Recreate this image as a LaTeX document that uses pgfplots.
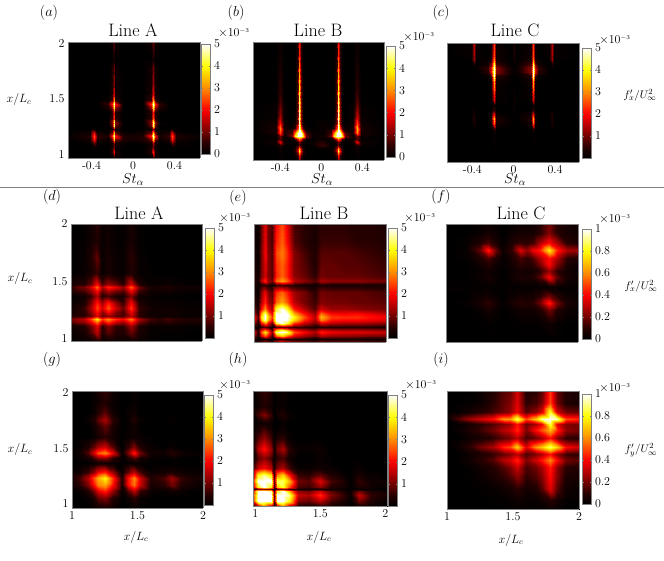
\documentclass[border=0pt]{standalone}
\usepackage{pgfplots}
\pgfplotsset{compat=1.18}
\pgfplotsset{
  /pgfplots/colormap={flowhot}{rgb255(0)=(0,0,0) rgb255(5)=(40,0,0) rgb255(10)=(115,0,0) rgb255(20)=(255,0,0) rgb255(30)=(255,140,0) rgb255(40)=(255,255,0) rgb255(50)=(255,255,255)},
  panel/.style={scale only axis, anchor=south west, view={0}{90}, axis on top, colormap name=flowhot,
    axis line style={gray}, major tick length=0pt,
    ticklabel style={font=\fontsize{12}{14}\selectfont},
    xtick=\empty, ytick=\empty, ztick=\empty},
  cb/.style n args={3}{colorbar, colorbar style={at={(parent axis.south east)}, anchor=south west,
    xshift=#1, yshift=#2, width=9pt, height=#3, axis line style={gray}, major tick length=1.5pt,
    ticklabel style={font=\fontsize{12}{14}\selectfont}}},
  five/.style={point meta min=0, point meta max=5, colorbar style={ytick={0,1,2,3,4,5}}},
  fivenz/.style={point meta min=0, point meta max=5, colorbar style={ytick={1,2,3,4,5}}},
  one/.style={point meta min=0, point meta max=1, colorbar style={ytick={0,0.2,0.4,0.6,0.8,1}, yticklabels={0,0.2,0.4,0.6,0.8,1}}},
  stx/.style={xtick={-0.4,0,0.4}, xticklabels={-0.4,0,0.4}},
  xlc/.style={xtick={1,1.5,2}, xticklabels={1,1.5,2}},
  ylc/.style={ytick={1,1.5,2}, yticklabels={1,1.5,2}},
}
% each panel: x positions of the grid, then one row of values per y
\newcommand\setgrid[1]{\gdef\gridx{#1}\gdef\griddata{}\foreach \q [count=\n] in {#1}{\xdef\gridn{\n}}}
\newcommand\gr[2]{\foreach \v [count=\i from 0] in {#2}{\pgfmathparse{{\gridx}[\i]}\xdef\griddata{\griddata (\pgfmathresult,#1,\v)}}}
\newcommand\drawgrid{\edef\next{\noexpand\addplot3[surf,shader=interp,mesh/cols=\gridn,point meta=z] coordinates {\griddata};}\next}
\newcommand\txt[3]{\node[inner sep=0pt] at (#1pt,560pt-#2pt) {#3};}
\newcommand\ttl[3]{\txt{#1}{#2}{\fontsize{18}{20}\selectfont #3}}
\newcommand\lett[3]{\txt{#1}{#2}{\fontsize{15}{17}\selectfont($#3$)}}
\newcommand\xlc[2]{\txt{#1}{#2}{\fontsize{11.5}{13}\selectfont$x/L_c$}}
\newcommand\st[2]{\txt{#1}{#2}{\fontsize{14}{16}\selectfont$St_\alpha$}}
\newcommand\tenm[2]{\txt{#1}{#2}{\fontsize{12}{13}\selectfont$\times 10^{\scriptscriptstyle -3}$}}
\newcommand\fl[3]{\txt{#1}{#2}{\fontsize{11}{13}\selectfont$f'_#3/U_\infty^2$}}
\begin{document}
\begin{tikzpicture}
\path[use as bounding box] (0,0) rectangle (664pt,560pt);
% (a)
\begin{axis}[panel, at={(68pt,402pt)}, width=132pt, height=116pt,
  xmin=-0.627, xmax=0.646, ymin=0.964, ymax=2.018, stx, ylc, cb={-7pt}{4pt}{110pt}, five]
\setgrid{-0.627,-0.415,-0.38,-0.345,-0.24,-0.205,-0.187,-0.17,-0.1,0,0.1,0.175,0.193,0.21,0.25,0.345,0.38,0.415,0.646}
\gr{0.964}{0,0,0,0,0,0,0.3,0,0,0,0,0,0.3,0,0,0,0,0,0}
\gr{1.02}{0,0,0,0,0,0.4,2.2,0.4,0,0,0,0.4,2.4,0.4,0,0,0,0,0}
\gr{1.06}{0,0,0.1,0,0,0.2,1,0.2,0,0,0,0.2,1,0.2,0,0,0.1,0,0}
\gr{1.1}{0,0.1,0.9,0.1,0,0.3,1.2,0.3,0.1,0,0.1,0.3,1.2,0.3,0,0.1,0.9,0.1,0}
\gr{1.13}{0,0.2,2,0.3,0.1,0.9,3.4,0.9,0.3,0.2,0.3,0.9,3.4,0.9,0.1,0.3,2,0.2,0}
\gr{1.165}{0.1,0.4,2.6,0.6,0.3,2.2,5,2.2,0.4,0.3,0.4,2.2,5,2.2,0.3,0.6,2.6,0.4,0.1}
\gr{1.195}{0,0.2,1.9,0.3,0.1,1,3.8,1,0.2,0.1,0.2,1,3.8,1,0.1,0.3,1.9,0.2,0}
\gr{1.225}{0,0,0.2,0,0,0.2,1.2,0.2,0,0,0,0.2,1.2,0.2,0,0,0.2,0,0}
\gr{1.255}{0,0,0,0,0,0.9,4.4,0.9,0,0,0,0.9,4.4,0.9,0,0,0,0,0}
\gr{1.29}{0,0,0,0,0.1,1.2,4.6,1.2,0,0,0,1.2,4.6,1.2,0.1,0,0,0,0}
\gr{1.33}{0,0,0,0,0,0.5,2.4,0.5,0,0,0,0.5,2.4,0.5,0,0,0,0,0}
\gr{1.38}{0,0,0,0,0,0.4,2.2,0.4,0,0,0,0.4,2.2,0.4,0,0,0,0,0}
\gr{1.42}{0,0,0,0,0.3,1.2,4,1.2,0,0,0,1.2,4,1.2,0.3,0,0,0,0}
\gr{1.455}{0,0,0,0,0.6,2.2,5,2.2,0,0,0,2.2,5,2.2,0.6,0,0,0,0}
\gr{1.49}{0,0,0,0,0.1,0.6,3.2,0.6,0,0,0,0.6,3.2,0.6,0.1,0,0,0,0}
\gr{1.55}{0,0,0,0,0,0.3,1.8,0.3,0,0,0,0.3,1.8,0.3,0,0,0,0,0}
\gr{1.65}{0,0,0,0,0,0.2,1.2,0.2,0,0,0,0.2,1.2,0.2,0,0,0,0,0}
\gr{1.78}{0,0,0,0,0,0.2,1,0.2,0,0,0,0.2,1,0.2,0,0,0,0,0}
\gr{1.85}{0,0,0,0,0,0,0.3,0,0,0,0,0,0.3,0,0,0,0,0,0}
\gr{1.95}{0,0,0,0,0,0.1,0.7,0.1,0,0,0,0.1,0.7,0.1,0,0,0,0,0}
\gr{2.018}{0,0,0,0,0,0.2,1,0.2,0,0,0,0.2,1,0.2,0,0,0,0,0}
\drawgrid
\end{axis}
% (b)
\begin{axis}[panel, at={(253pt,400pt)}, width=131pt, height=118pt,
  xmin=-0.666, xmax=0.612, ymin=1, ymax=2, stx, cb={-6pt}{3pt}{111pt}, five]
\setgrid{-0.666,-0.44,-0.4,-0.36,-0.285,-0.255,-0.23,-0.215,-0.2,-0.175,-0.145,-0.08,-0.025,0.03,0.096,0.126,0.151,0.166,0.181,0.206,0.236,0.31,0.351,0.39,0.612}
\gr{1}{0,0,0,0,0,0,0.3,1.2,0.3,0,0,0,0,0,0,0,0.3,1.2,0.3,0,0,0,0,0,0}
\gr{1.03}{0,0,0.1,0,0,0.1,0.6,2,0.6,0.1,0,0,0,0,0,0.1,0.6,2,0.6,0.1,0,0,0.1,0,0}
\gr{1.06}{0,0,0.1,0,0,0.3,1.2,3,1.2,0.3,0,0,0,0,0,0.3,1.2,3,1.2,0.3,0,0,0.1,0,0}
\gr{1.08}{0,0,0.2,0,0,0.5,2,4.4,2,0.5,0,0,0,0,0,0.5,2,4.4,2,0.5,0,0,0.2,0,0}
\gr{1.1}{0,0,0.2,0,0,0.3,1.2,3,1.2,0.3,0,0,0.1,0.1,0,0.3,1.2,3,1.2,0.3,0,0,0.2,0,0}
\gr{1.13}{0,0.1,0.5,0.1,0,0.1,0.3,0.8,0.3,0.1,0,0.1,0.6,0.6,0,0.1,0.3,0.8,0.3,0.1,0,0.1,0.5,0.1,0}
\gr{1.155}{0,0.2,2,0.2,0,0.1,0.5,1,0.5,0.1,0,0.1,0.4,0.4,0,0.1,0.5,1,0.5,0.1,0,0.2,2,0.2,0}
\gr{1.175}{0,0.1,0.8,0.1,0.1,0.7,2,3,2,0.7,0.1,0,0.1,0.1,0.1,0.7,2,3,2,0.7,0.1,0.1,0.8,0.1,0}
\gr{1.205}{0,0.1,1,0.1,1,4,5,5,5,4,1,0.1,0.2,0.2,1,4,5,5,5,4,1,0.1,1,0.1,0}
\gr{1.23}{0,0.3,2.5,0.3,0.7,3,5,5,5,3,0.7,0.1,0.1,0.1,0.7,3,5,5,5,3,0.7,0.3,3,0.3,0}
\gr{1.27}{0,0.3,3,0.3,0.1,0.6,2.5,5,2.5,0.6,0.1,0,0.1,0.1,0.1,0.6,2.5,5,2.5,0.6,0.1,0.3,3.4,0.3,0}
\gr{1.31}{0,0.2,2,0.2,0,0.2,1.2,4.8,1.2,0.2,0,0,0.1,0.1,0,0.2,1.2,4.8,1.2,0.2,0,0.2,2.4,0.2,0}
\gr{1.37}{0,0.1,1.3,0.1,0,0.1,1.2,4.8,1.2,0.1,0,0,0,0,0,0.1,1.2,4.8,1.2,0.1,0,0.1,1.6,0.1,0}
\gr{1.44}{0,0.1,1,0.1,0,0,1.1,4.6,1.1,0,0,0,0,0,0,0,1.1,4.6,1.1,0,0,0.1,1.1,0.1,0}
\gr{1.51}{0,0,0.7,0,0,0,1,4.4,1,0,0,0,0,0,0,0,1,4.4,1,0,0,0,0.8,0,0}
\gr{1.6}{0,0,0.5,0,0,0,0.9,4,0.9,0,0,0,0,0,0,0,0.9,4,0.9,0,0,0,0.5,0,0}
\gr{1.7}{0,0,0.4,0,0,0,0.8,3.5,0.8,0,0,0,0,0,0,0,0.8,3.5,0.8,0,0,0,0.4,0,0}
\gr{1.8}{0,0,0.3,0,0,0,0.6,3,0.6,0,0,0,0,0,0,0,0.6,3,0.6,0,0,0,0.3,0,0}
\gr{1.9}{0,0,0.2,0,0,0,0.5,2.3,0.5,0,0,0,0,0,0,0,0.5,2.3,0.5,0,0,0,0.2,0,0}
\gr{2}{0,0,0.2,0,0,0,0.5,2.2,0.5,0,0,0,0,0,0,0,0.5,2.2,0.5,0,0,0,0.2,0,0}
\drawgrid
\end{axis}
% (c)
\begin{axis}[panel, at={(447pt,398pt)}, width=132pt, height=119pt,
  xmin=-0.645, xmax=0.632, ymin=1, ymax=2, stx, cb={-5pt}{4pt}{110pt}, fivenz]
\setgrid{-0.645,-0.41,-0.385,-0.36,-0.25,-0.215,-0.194,-0.173,-0.02,0,0.02,0.163,0.184,0.205,0.24,0.345,0.368,0.39,0.632}
\gr{1}{0,0,0,0,0,0,0,0,0,0,0,0,0,0,0,0,0,0,0}
\gr{1.24}{0,0,0,0,0,0,0.1,0,0,0,0,0,0.1,0,0,0,0,0,0}
\gr{1.28}{0,0,0,0,0,0,0.5,0,0,0,0,0,0.5,0,0,0,0,0,0}
\gr{1.32}{0,0,0.3,0,0,0.2,2.5,0.2,0,0,0,0.2,2.5,0.2,0,0,0.3,0,0}
\gr{1.36}{0,0,0.4,0,0,0.4,3.5,0.4,0,0,0,0.4,3.5,0.4,0,0,0.4,0,0}
\gr{1.4}{0,0,0.3,0,0,0.2,2,0.2,0,0.1,0,0.2,2,0.2,0,0,0.3,0,0}
\gr{1.44}{0,0,0.1,0,0,0,0.5,0,0,0.1,0,0,0.5,0,0,0,0.1,0,0}
\gr{1.48}{0,0,0,0,0,0,0.2,0,0,0.1,0,0,0.2,0,0,0,0,0,0}
\gr{1.52}{0,0,0,0,0,0.1,1.8,0.1,0,0.2,0,0.1,1.8,0.1,0,0,0,0,0}
\gr{1.57}{0,0,0,0,0,0.1,2.2,0.1,0,0.1,0,0.1,2.2,0.1,0,0,0,0,0}
\gr{1.63}{0,0,0,0,0,0.1,3,0.1,0,0.1,0,0.1,3,0.1,0,0,0,0,0}
\gr{1.68}{0,0,0,0,0,0.2,3.4,0.2,0,0,0,0.2,3.4,0.2,0,0,0,0,0}
\gr{1.72}{0,0,0.1,0,0.1,0.7,5,0.5,0,0,0,0.5,5,0.7,0.1,0,0.1,0,0}
\gr{1.76}{0,0,0,0,0.5,1.8,5,1.2,0.1,0.1,0.1,1.2,5,1.8,0.5,0,0,0,0}
\gr{1.79}{0,0,0,0,0.6,1.8,5,1.2,0.1,0.1,0.1,1.2,5,1.8,0.6,0,0,0,0}
\gr{1.82}{0,0,0.3,0,0.2,1,4.2,0.7,0,0.1,0,0.7,4.2,1,0.2,0,0.3,0,0}
\gr{1.86}{0,0,1.2,0,0.1,0.4,3,0.3,0,0.2,0,0.3,3,0.4,0.1,0,1.2,0,0}
\gr{1.9}{0,0.1,1.4,0.1,0,0.2,2.6,0.2,0,0.4,0,0.2,2.6,0.2,0,0.1,1.4,0.1,0}
\gr{1.95}{0,0.1,1.5,0.1,0,0.2,2.5,0.2,0,0.4,0,0.2,2.5,0.2,0,0.1,1.5,0.1,0}
\gr{2}{0,0.1,1.5,0.1,0,0.1,2.4,0.1,0,0.3,0,0.1,2.4,0.1,0,0.1,1.5,0.1,0}
\drawgrid
\end{axis}
% (d)
\begin{axis}[panel, at={(71pt,219pt)}, width=131pt, height=117pt,
  xmin=1, xmax=2, ymin=0.98, ymax=2, ylc, cb={-5pt}{3pt}{110pt}, fivenz]
\setgrid{1,1.05,1.1,1.15,1.195,1.233,1.285,1.34,1.4,1.46,1.52,1.6,1.67,1.74,1.82,1.9,2}
\gr{0.98}{0.05,0.1,0.1,0.2,0.4,0.1,0.2,0.1,0.1,0.2,0.1,0.05,0,0,0,0,0}
\gr{1.05}{0.1,0.2,0.3,0.7,1.5,0.4,0.8,0.4,0.4,0.9,0.3,0.1,0.05,0.05,0.05,0,0}
\gr{1.11}{0.2,0.3,0.4,1,1.8,0.5,1.1,0.5,0.5,1.3,0.4,0.1,0.1,0.1,0.1,0.05,0.05}
\gr{1.145}{0.8,1.1,1.2,1.9,2.9,1.6,2.4,1.6,1.3,2.2,1,0.5,0.4,0.5,0.4,0.3,0.3}
\gr{1.175}{1,1.3,1.5,2.5,3.9,2.4,3,2.3,2,2.9,1.4,0.7,0.5,0.7,0.5,0.4,0.4}
\gr{1.2}{0.4,0.5,0.5,0.9,1.8,0.9,1.2,0.8,0.7,1.5,0.5,0.2,0.15,0.2,0.15,0.1,0.1}
\gr{1.235}{0.2,0.4,0.5,1.2,2.1,1.2,2,1.1,0.7,1.9,0.5,0.2,0.15,0.2,0.15,0.1,0.1}
\gr{1.27}{0.2,0.4,0.6,1.4,2.5,1.7,2.6,1.6,0.9,2.4,0.6,0.25,0.2,0.2,0.15,0.1,0.1}
\gr{1.31}{0.1,0.2,0.3,1.1,2.2,1.3,2.2,1.2,0.6,2,0.4,0.15,0.1,0.1,0.1,0.05,0.05}
\gr{1.37}{0.05,0.1,0.2,0.6,1.4,0.4,0.7,0.3,0.3,1.1,0.2,0.1,0.05,0.05,0.05,0,0}
\gr{1.42}{0.4,0.6,0.7,1.2,2,0.9,1.4,1,0.8,1.9,0.6,0.2,0.2,0.2,0.1,0.1,0.1}
\gr{1.45}{0.5,0.9,1,1.7,2.8,1.4,2.3,1.8,1.2,2.7,1,0.3,0.3,0.4,0.2,0.2,0.2}
\gr{1.48}{0.2,0.4,0.4,0.9,1.9,0.7,1.2,0.9,0.5,1.7,0.4,0.1,0.1,0.15,0.1,0.05,0.05}
\gr{1.57}{0,0.05,0.1,0.3,0.6,0.1,0.3,0.1,0.1,0.4,0.1,0.05,0,0,0,0,0}
\gr{1.7}{0,0.05,0.1,0.4,0.9,0.1,0.3,0.1,0.1,0.5,0.1,0,0,0,0,0,0}
\gr{1.85}{0,0.05,0.05,0.2,0.4,0.1,0.2,0.05,0.05,0.3,0.05,0,0,0,0,0,0}
\gr{2}{0,0,0.05,0.2,0.5,0.1,0.2,0.05,0.05,0.3,0.05,0,0,0,0,0,0}
\drawgrid
\end{axis}
% (e)
\begin{axis}[panel, at={(254pt,218pt)}, width=132pt, height=118pt,
  xmin=1, xmax=2, ymin=1, ymax=2, cb={-6pt}{4pt}{110pt}, fivenz]
\setgrid{1,1.03,1.055,1.08,1.105,1.135,1.17,1.21,1.25,1.3,1.38,1.465,1.51,1.58,1.68,1.78,1.88,2}
\gr{1}{1.2,0.4,1,1.4,1.2,0.6,1.6,2.4,1.8,1.4,1.2,0.8,1.2,1,1,1,0.9,0.8}
\gr{1.028}{0.3,0,0.1,0.3,0.2,0.1,0.3,0.4,0.3,0.3,0.3,0.1,0.3,0.3,0.3,0.3,0.2,0.2}
\gr{1.055}{1.2,0.2,1.6,2.6,1.8,0.6,2.6,3.4,2.6,1.7,1.3,0.9,1.4,1.2,1.2,1.1,1,1}
\gr{1.085}{1.8,0.4,2.6,3.8,2.8,1.1,4.6,5,4.6,2.6,2,1.4,2.2,1.9,1.8,1.8,1.7,1.6}
\gr{1.105}{1.4,0.3,1.9,2.8,2.1,0.8,3.4,4.2,3.4,2,1.5,1.1,1.7,1.5,1.4,1.4,1.3,1.2}
\gr{1.128}{0.4,0.1,0.5,0.8,0.6,0.2,0.7,0.9,0.8,0.6,0.5,0.3,0.5,0.4,0.4,0.4,0.4,0.3}
\gr{1.16}{1.2,0.3,2,3,2,0.9,4.2,5,4.2,2.4,1.6,1,1.8,1.5,1.4,1.4,1.3,1.2}
\gr{1.19}{1.8,0.5,3.2,4.8,3.2,1.9,5,5,5,3.6,2.3,1.4,2.9,2.1,2,2,1.9,1.7}
\gr{1.213}{2.2,0.7,3.8,5,3.6,2.4,5,5,5,4,2.6,1.5,3.4,2.4,2.3,2.3,2.1,1.9}
\gr{1.24}{1.6,0.5,3.2,4.8,3.2,2,5,5,5,3.4,2.2,1.3,2.9,2.1,2,2.1,1.9,1.6}
\gr{1.28}{1,0.3,2,3,2,1.4,4.2,5,4.2,2.2,1.5,0.8,1.7,1.3,1.3,1.2,1.1,1}
\gr{1.34}{0.6,0.2,1.4,2.3,1.4,1,2.7,3.2,2.6,1.5,1,0.6,1.1,1,1,0.9,0.9,0.8}
\gr{1.42}{0.4,0.1,1.1,1.9,1.1,0.8,2.3,2.7,2.2,1.3,1,0.5,1,0.9,0.9,0.9,0.8,0.7}
\gr{1.483}{0.3,0.1,0.4,0.6,0.4,0.2,0.6,0.7,0.6,0.4,0.3,0.2,0.4,0.3,0.3,0.3,0.3,0.3}
\gr{1.517}{0.6,0.2,1.4,2.3,1.4,1,2.7,3.2,2.7,1.5,1.2,0.8,1.4,1.2,1.2,1.2,1.1,1}
\gr{1.56}{0.5,0.2,1,1.7,1.1,0.8,2.2,2.7,2.2,1.2,0.9,0.5,1,0.9,0.9,0.9,0.8,0.7}
\gr{1.65}{0.4,0.1,1,1.8,1.1,0.8,2.3,2.7,2.2,1.1,0.8,0.4,0.9,0.9,0.8,0.8,0.7,0.6}
\gr{1.75}{0.4,0.1,1,2,1.1,0.8,2.5,2.9,2.3,1.1,0.7,0.4,0.8,0.8,0.8,0.7,0.6,0.5}
\gr{1.85}{0.3,0.1,0.9,1.9,1,0.7,2.2,2.7,2,0.8,0.5,0.3,0.6,0.6,0.6,0.5,0.5,0.4}
\gr{2}{0.3,0.1,0.9,1.8,1,0.7,2,2.5,1.8,0.7,0.5,0.3,0.5,0.5,0.5,0.4,0.4,0.3}
\drawgrid
\end{axis}
% (f)
\begin{axis}[panel, at={(446pt,218pt)}, width=132pt, height=118pt,
  xmin=1, xmax=2, ymin=1, ymax=2, cb={-4pt}{3pt}{110pt}, one]
\setgrid{1,1.15,1.26,1.32,1.38,1.43,1.5,1.56,1.61,1.66,1.71,1.778,1.84,1.92,2}
\gr{1}{0,0,0,0,0,0,0,0,0,0,0,0,0,0,0}
\gr{1.15}{0,0,0,0.01,0,0,0,0.01,0.01,0.01,0.01,0.04,0.01,0,0}
\gr{1.27}{0,0,0.02,0.05,0.02,0,0.02,0.04,0.04,0.04,0.08,0.2,0.08,0.03,0.02}
\gr{1.33}{0,0.01,0.06,0.11,0.05,0.01,0.06,0.1,0.08,0.1,0.2,0.45,0.2,0.06,0.04}
\gr{1.39}{0,0,0.03,0.05,0.02,0,0.03,0.05,0.05,0.05,0.1,0.2,0.1,0.03,0.02}
\gr{1.47}{0.01,0.01,0.01,0.01,0.01,0.01,0.01,0.01,0.01,0.01,0.01,0.01,0.01,0.01,0.01}
\gr{1.553}{0,0,0.03,0.06,0.02,0,0.04,0.07,0.06,0.08,0.17,0.4,0.17,0.05,0.03}
\gr{1.6}{0,0,0.02,0.04,0.02,0,0.03,0.05,0.04,0.05,0.1,0.25,0.1,0.04,0.02}
\gr{1.65}{0,0,0.04,0.08,0.03,0.01,0.05,0.1,0.09,0.1,0.2,0.4,0.2,0.06,0.03}
\gr{1.71}{0,0.01,0.08,0.15,0.07,0.01,0.07,0.14,0.1,0.16,0.28,0.42,0.28,0.1,0.07}
\gr{1.778}{0,0.02,0.18,0.45,0.18,0.03,0.12,0.35,0.25,0.38,0.45,0.78,0.45,0.28,0.26}
\gr{1.84}{0,0.01,0.08,0.15,0.07,0.01,0.07,0.12,0.1,0.14,0.28,0.42,0.28,0.1,0.07}
\gr{1.92}{0,0,0.02,0.05,0.03,0,0.03,0.05,0.05,0.05,0.1,0.22,0.1,0.05,0.04}
\gr{2}{0,0,0.02,0.03,0.02,0,0.02,0.03,0.03,0.04,0.09,0.2,0.09,0.05,0.04}
\drawgrid
\end{axis}
% (g)
\begin{axis}[panel, at={(72pt,52pt)}, width=131pt, height=117pt,
  xmin=1, xmax=2, ymin=0.964, ymax=2.018, xlc, ylc, cb={-7pt}{3pt}{110pt}, fivenz]
\setgrid{1,1.06,1.12,1.17,1.2,1.255,1.31,1.38,1.43,1.47,1.52,1.6,1.7,1.76,1.83,1.92,2}
\gr{0.964}{0,0,0,0.1,0.2,0.3,0.1,0,0,0.1,0,0,0,0,0,0,0}
\gr{1.05}{0,0,0.1,0.4,0.9,1.1,0.4,0,0.2,0.5,0.1,0,0,0,0,0,0}
\gr{1.12}{0,0.1,0.4,1.1,1.8,2.2,1.2,0.1,0.8,1.5,0.6,0.1,0.1,0.2,0.1,0,0}
\gr{1.175}{0.2,0.5,1.1,2.1,2.9,3.2,2,0.3,2,2.8,1.6,0.3,0.5,1,0.4,0.2,0.1}
\gr{1.235}{0.3,0.7,1.5,2.6,3.3,4,2.3,0.4,2.1,3,1.7,0.4,0.7,1.3,0.6,0.3,0.3}
\gr{1.29}{0.1,0.2,0.6,1.2,1.9,2.2,1.2,0.1,0.9,1.5,0.7,0.1,0.2,0.3,0.2,0.1,0.1}
\gr{1.37}{0,0,0,0.1,0.2,0.2,0.1,0,0.1,0.1,0.05,0,0,0,0,0,0}
\gr{1.41}{0,0.1,0.3,0.7,1.1,1.2,0.5,0,0.4,0.8,0.3,0.1,0,0.1,0,0,0}
\gr{1.46}{0.05,0.2,0.8,1.8,2.6,3,1.8,0.1,1.1,2.2,1,0.2,0.2,0.5,0.2,0.1,0.1}
\gr{1.51}{0,0.1,0.4,0.9,1.4,1.7,0.8,0,0.5,1.1,0.4,0.1,0,0.1,0,0,0}
\gr{1.6}{0,0,0,0.1,0.3,0.5,0.2,0,0.1,0.2,0.1,0,0,0,0,0,0}
\gr{1.7}{0,0,0,0.2,0.5,0.9,0.3,0,0.1,0.2,0,0,0,0,0,0,0}
\gr{1.76}{0,0,0.1,0.4,0.9,1.4,0.5,0,0.1,0.4,0.1,0,0,0.1,0,0,0}
\gr{1.83}{0,0,0,0.1,0.4,0.8,0.2,0,0.1,0.2,0,0,0,0,0,0,0}
\gr{1.92}{0,0,0,0.1,0.2,0.4,0.1,0,0,0.1,0,0,0,0,0,0,0}
\gr{2.018}{0,0,0,0.1,0.3,0.6,0.2,0,0,0.1,0,0,0,0,0,0,0}
\drawgrid
\end{axis}
% (h)
\begin{axis}[panel, at={(253pt,54pt)}, width=134pt, height=115pt,
  xmin=0.982, xmax=2.013, ymin=1, ymax=2, xlc, cb={-7pt}{0pt}{111pt}, fivenz]
\setgrid{0.982,1.02,1.07,1.12,1.142,1.165,1.213,1.262,1.33,1.41,1.495,1.58,1.66,1.73,1.8,1.88,1.94,2.013}
\gr{1}{0.3,1.5,3,1.5,0.2,1.5,3,1.6,0.4,0.3,0.5,0.2,0.1,0,0.3,0.1,0.05,0}
\gr{1.04}{2,5,5,5,0.9,5,5,4,1.1,0.9,1.5,0.7,0.4,0,1,0.4,0.2,0.1}
\gr{1.093}{2.4,5,5,5,1,5,5,4.6,1.6,1.4,2.3,1.1,0.7,0.1,1.6,0.6,0.4,0.3}
\gr{1.13}{1.8,5,5,4.6,0.7,4.2,5,3.4,1.2,1,1.7,0.8,0.5,0.1,1,0.4,0.3,0.2}
\gr{1.148}{0.4,0.9,1.2,0.9,0.2,0.8,1.1,0.7,0.3,0.2,0.3,0.2,0.1,0,0.1,0.1,0,0}
\gr{1.165}{1.5,4,5,4,0.6,3.5,4.2,2.6,0.7,0.6,1.2,0.4,0.3,0,0.4,0.2,0.1,0.1}
\gr{1.218}{2.2,5,5,5,0.9,4.4,4.4,3.4,1,0.8,1.8,0.7,0.5,0,0.6,0.2,0.2,0.1}
\gr{1.27}{1.3,4,4.6,3.8,0.6,3,3.6,2.2,0.6,0.5,0.9,0.4,0.2,0,0.3,0.1,0.1,0}
\gr{1.33}{0.6,1.6,2,1.5,0.3,1.1,1.4,0.7,0.1,0.1,0.2,0.1,0,0,0.1,0,0,0}
\gr{1.42}{0.1,0.8,1.2,0.7,0.1,0.5,0.7,0.2,0,0,0.1,0,0,0,0,0,0,0}
\gr{1.5}{0.2,1.5,2.1,1.3,0.3,1,1.4,0.5,0.1,0.1,0.2,0,0,0,0,0,0,0}
\gr{1.58}{0.1,0.8,1.3,0.7,0.1,0.4,0.6,0.1,0,0,0,0,0,0,0,0,0,0}
\gr{1.65}{0.05,0.4,0.8,0.4,0,0.1,0.2,0.05,0,0,0,0,0,0,0,0,0,0}
\gr{1.72}{0,0.1,0.2,0.1,0,0,0.1,0,0,0,0,0,0,0,0,0,0,0}
\gr{1.79}{0.05,0.7,1.1,0.6,0,0.2,0.4,0.1,0,0,0,0,0,0,0,0,0,0}
\gr{1.87}{0,0.2,0.4,0.2,0,0.1,0.1,0,0,0,0,0,0,0,0,0,0,0}
\gr{2}{0,0.3,0.6,0.3,0,0.1,0.2,0.05,0,0,0,0,0,0,0,0,0,0}
\drawgrid
\end{axis}
% (i)
\begin{axis}[panel, at={(447pt,51pt)}, width=132pt, height=118pt,
  xmin=1, xmax=2, ymin=1, ymax=2, xlc, cb={-5pt}{5pt}{110pt}, one]
\setgrid{1,1.08,1.17,1.26,1.35,1.43,1.48,1.533,1.6,1.674,1.72,1.777,1.83,1.9,2}
\gr{1}{0,0,0,0,0,0,0.01,0.01,0.01,0.01,0.01,0.03,0.01,0,0}
\gr{1.08}{0,0,0,0,0.01,0.01,0.02,0.04,0.02,0.02,0.05,0.1,0.05,0.01,0.01}
\gr{1.17}{0,0,0,0.01,0.02,0.04,0.06,0.1,0.05,0.08,0.16,0.36,0.16,0.04,0.02}
\gr{1.29}{0,0,0.01,0.03,0.07,0.12,0.16,0.25,0.12,0.16,0.24,0.42,0.22,0.07,0.06}
\gr{1.36}{0,0,0.01,0.05,0.09,0.16,0.22,0.33,0.14,0.2,0.28,0.44,0.24,0.1,0.08}
\gr{1.414}{0,0.01,0.04,0.1,0.16,0.3,0.34,0.46,0.22,0.34,0.44,0.6,0.4,0.2,0.16}
\gr{1.47}{0,0,0.03,0.07,0.11,0.18,0.22,0.3,0.14,0.22,0.28,0.42,0.24,0.12,0.1}
\gr{1.527}{0,0.03,0.1,0.2,0.28,0.46,0.5,0.72,0.36,0.62,0.72,0.9,0.72,0.4,0.34}
\gr{1.6}{0,0,0.03,0.06,0.1,0.17,0.2,0.3,0.13,0.2,0.26,0.42,0.22,0.1,0.09}
\gr{1.667}{0,0.02,0.07,0.13,0.2,0.3,0.34,0.46,0.22,0.42,0.52,0.68,0.46,0.24,0.2}
\gr{1.72}{0,0.01,0.05,0.1,0.15,0.22,0.26,0.42,0.18,0.28,0.4,0.86,0.36,0.22,0.2}
\gr{1.766}{0,0.15,0.26,0.34,0.42,0.62,0.62,0.9,0.5,0.72,0.94,1,0.94,0.5,0.46}
\gr{1.82}{0,0.01,0.05,0.09,0.14,0.2,0.24,0.38,0.16,0.24,0.36,0.84,0.34,0.2,0.18}
\gr{1.9}{0,0,0.01,0.03,0.1,0.18,0.22,0.36,0.1,0.14,0.22,0.5,0.2,0.08,0.06}
\gr{2}{0,0,0,0.02,0.08,0.16,0.18,0.34,0.08,0.1,0.18,0.48,0.18,0.08,0.06}
\drawgrid
\end{axis}
\draw[gray] (0pt,373pt) -- (664pt,373pt);
\ttl{133}{30}{Line A}\ttl{318}{30}{Line B}\ttl{515}{30}{Line C}
\ttl{139}{213}{Line A}\ttl{324}{213}{Line B}\ttl{521}{213}{Line C}
\lett{49}{13}{a}\lett{236}{13}{b}\lett{441}{13}{c}
\lett{52}{197}{d}\lett{238}{198}{e}\lett{441}{197}{f}
\lett{52}{360}{g}\lett{238}{360}{h}\lett{441}{360}{i}
\xlc{19}{100}\xlc{20}{279}\xlc{20}{450}
\xlc{136}{537}\xlc{319}{537}\xlc{511}{540}
\st{133}{180}\st{322}{180}\st{515}{180}
\tenm{234}{33}\tenm{419}{37}\tenm{615}{40}
\tenm{235}{218}\tenm{420}{218}\tenm{615}{219}
\tenm{235}{385}\tenm{421}{385}\tenm{615}{388}
\fl{640}{95}{x}\fl{641}{286}{x}\fl{641}{450}{y}
\end{tikzpicture}
\end{document}
